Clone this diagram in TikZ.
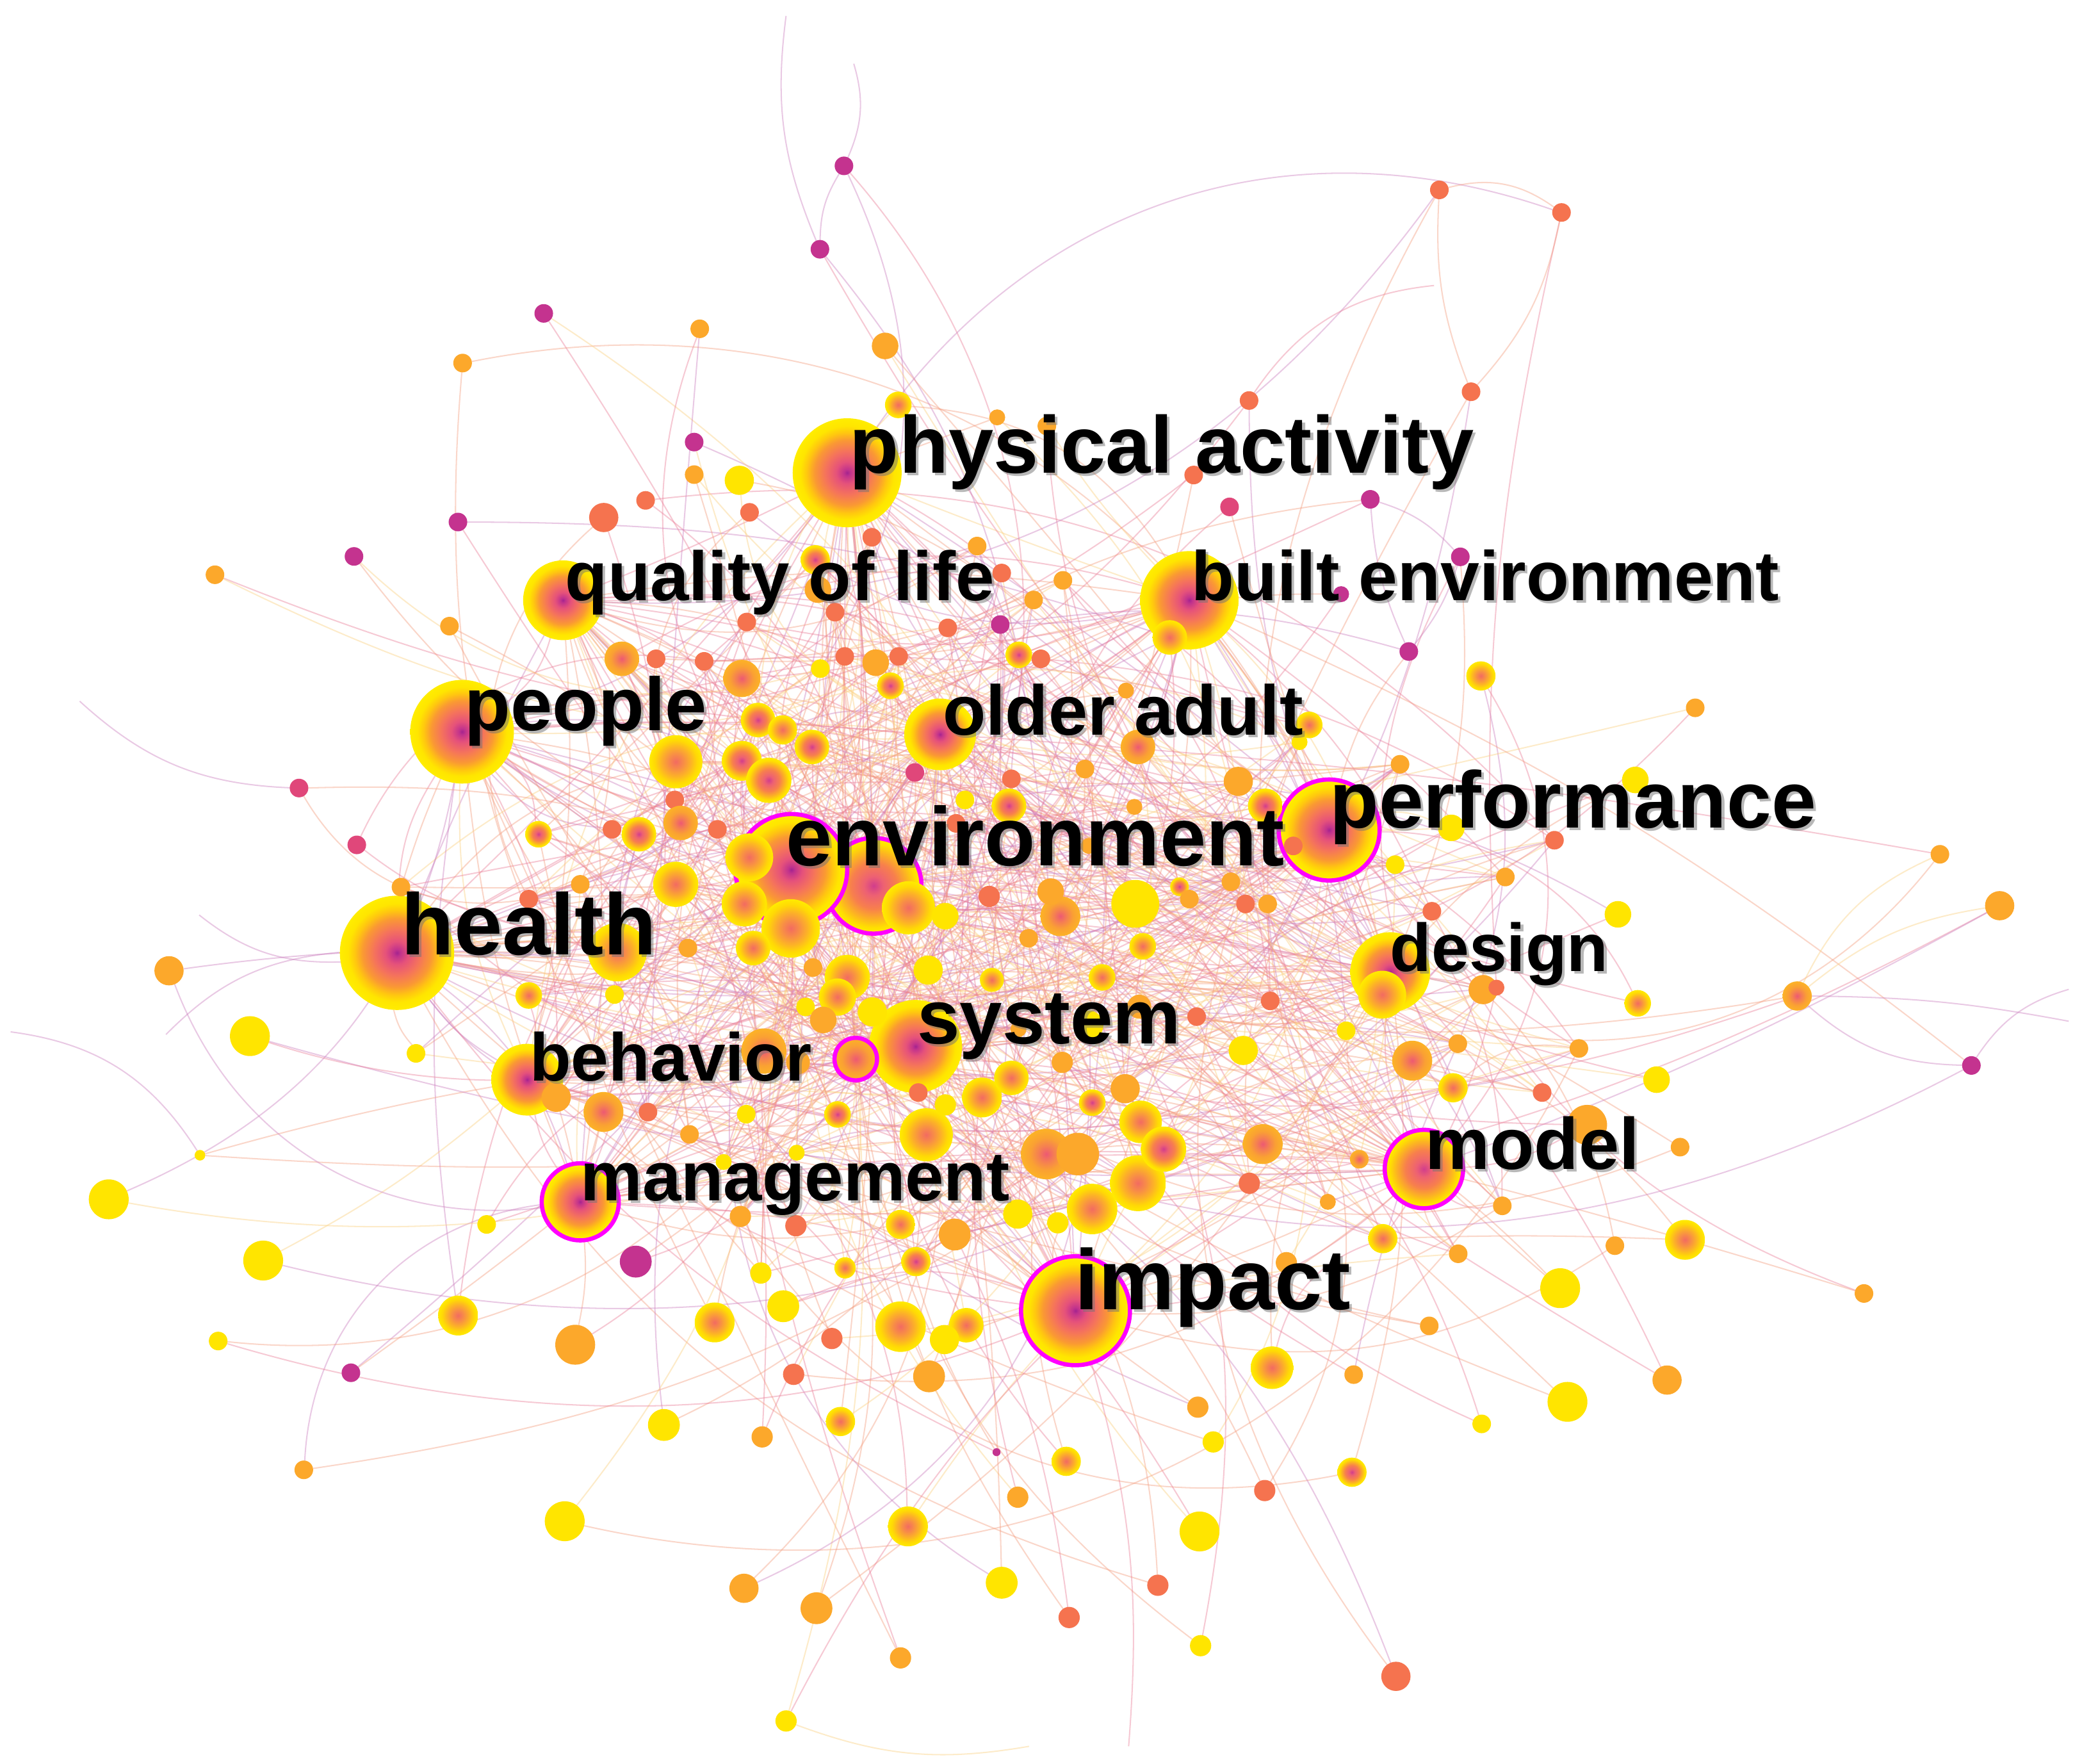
\documentclass[tikz,border=0pt]{standalone}
\usepackage{fontspec}
\setmainfont{Liberation Sans}
\usetikzlibrary{backgrounds}
\pgfdeclareradialshading{shB}{\pgfpoint{0bp}{0bp}}{rgb(0bp)=(0.64,0.14,0.56); rgb(1.5bp)=(0.76,0.2,0.55); rgb(5bp)=(0.9,0.32,0.48); rgb(10bp)=(0.96,0.45,0.36); rgb(15bp)=(0.98,0.6,0.2); rgb(18.5bp)=(1,0.78,0.06); rgb(21.5bp)=(1,0.9,0); rgb(25bp)=(1,0.93,0); rgb(50bp)=(1,0.93,0)}
\pgfdeclareradialshading{shS}{\pgfpoint{0bp}{0bp}}{rgb(0bp)=(0.82,0.24,0.55); rgb(5bp)=(0.93,0.38,0.45); rgb(12bp)=(0.97,0.5,0.3); rgb(18bp)=(0.99,0.72,0.12); rgb(22bp)=(1,0.88,0); rgb(25bp)=(1,0.92,0); rgb(50bp)=(1,0.92,0)}
\pgfdeclareradialshading{shO}{\pgfpoint{0bp}{0bp}}{rgb(0bp)=(0.93,0.35,0.45); rgb(8bp)=(0.96,0.5,0.32); rgb(16bp)=(0.98,0.63,0.2); rgb(25bp)=(0.99,0.7,0.15); rgb(50bp)=(0.99,0.7,0.15)}
\pgfdeclareradialshading{shY}{\pgfpoint{0bp}{0bp}}{rgb(0bp)=(0.95,0.42,0.38); rgb(7bp)=(0.97,0.55,0.28); rgb(14bp)=(0.99,0.7,0.15); rgb(20bp)=(1,0.85,0.02); rgb(25bp)=(1,0.92,0); rgb(50bp)=(1,0.92,0)}
\definecolor{cY}{rgb}{1,0.9,0}
\definecolor{cO}{rgb}{0.99,0.66,0.17}
\definecolor{cS}{rgb}{0.96,0.45,0.31}
\definecolor{cP}{rgb}{0.88,0.28,0.48}
\definecolor{cM}{rgb}{0.77,0.2,0.56}
\definecolor{cRing}{rgb}{1,0,1}
\definecolor{e1}{rgb}{0.92,0.5,0.6}
\definecolor{e2}{rgb}{0.96,0.62,0.5}
\definecolor{e3}{rgb}{0.99,0.82,0.5}
\definecolor{e4}{rgb}{0.8,0.5,0.75}
\newcommand\kwlab[5]{%
  \node[lblsh,font=\fontsize{#4}{#4}\selectfont\bfseries] (#1s) at (#2+2,#3+2) {#5};
  \node[lbl,font=\fontsize{#4}{#4}\selectfont\bfseries] (#1) at (#2,#3) {#5};}
\tikzset{
  dot/.style={circle,inner sep=0pt,outer sep=0pt},
  kB/.style={dot,shading=shB,shade},
  kS/.style={dot,shading=shS,shade},
  kO/.style={dot,shading=shO,shade},
  kY/.style={dot,shading=shY,shade},
  pY/.style={dot,fill=cY},
  pO/.style={dot,fill=cO},
  pS/.style={dot,fill=cS},
  pP/.style={dot,fill=cP},
  pM/.style={dot,fill=cM},
  ring/.style={draw=cRing,line width=0.9pt},
  ed/.style={line width=0.28pt,opacity=0.42},
  ec1/.style={ed,draw=e1},
  ec2/.style={ed,draw=e1},
  ec3/.style={ed,draw=e2},
  ec4/.style={ed,draw=e2},
  ec5/.style={ed,draw=e3},
  ec6/.style={ed,draw=e4},
  lbl/.style={anchor=base west,inner sep=0pt,outer sep=0pt,text=black},
  lblsh/.style={lbl,text=black!55,opacity=0.5}
}
\begin{document}
\begin{tikzpicture}[x=0.01cm,y=-0.01cm]
\useasboundingbox (0,0) rectangle (1568,1328);
% ---------- hubs ----------
\node[kB,minimum size=0.82cm] (h1) at (638,356) {};
\node[kB,minimum size=0.60cm] (h2) at (424,452) {};
\node[kB,minimum size=0.74cm] (h3) at (895.7,452) {};
\node[kB,minimum size=0.78cm] (h4) at (348,551) {};
\node[kB,minimum size=0.54cm] (h5) at (708,553) {};
\node[kS,ring,minimum size=0.72cm] (h7) at (658,667) {};
\node[kB,ring,minimum size=0.84cm] (h6) at (596,655) {};
\node[kB,ring,minimum size=0.76cm] (h8) at (1001,625) {};
\node[kB,minimum size=0.86cm] (h9) at (299,717.5) {};
\node[kB,minimum size=0.60cm] (h10) at (1047,732) {};
\node[kB,minimum size=0.70cm] (h11) at (689.5,788) {};
\node[kB,minimum size=0.54cm] (h12) at (397,813) {};
\node[kO,ring,minimum size=0.32cm] (h13) at (644.5,797.5) {};
\node[kB,ring,minimum size=0.58cm] (h14) at (437,905) {};
\node[kS,ring,minimum size=0.59cm] (h15) at (1072.4,880.3) {};
\node[kB,ring,minimum size=0.82cm] (h16) at (810,987) {};
% ---------- central nodes ----------
\foreach \xx/\yy/\rr/\ss [count=\k] in {
614/421.5/11/kS, 616/444/10/pO, 656.6/404.6/7/pS, 735.9/411.2/7/pO, 754.4/431.5/7/pS,
800.5/437/7/pO, 778.4/451.8/7/pO, 628.9/461/7/pS, 562.4/468.4/7/pS, 753.3/470.3/7/pM,
713.8/472.8/7/pS, 468.3/496.1/13/kO, 494.1/496.1/7/pS, 530.3/498/7/pS, 558.7/510.9/14/kO,
617.8/503.5/7/pY, 636.2/494.3/7/pS, 659.5/499/10/pO, 676.8/494.3/7/pS, 670.6/516.4/10/kS,
767.3/493.1/10/kS, 783.9/496.1/7/pS, 570.9/542.2/13/kS, 589.4/549.6/11/kY, 611.5/562.5/13/kS,
509/573.6/20/kY, 558.7/572.9/15/kS, 579/587.6/17/kS, 689/581.7/7/pP, 726.7/602.4/7/pY,
761.7/586.5/7/pS, 759.9/606.8/13/kS, 817.1/579.1/7/pO, 508.2/602.4/7/pS, 512.6/619.7/13/kO,
481.2/628.2/13/kS, 460.9/624.5/7/pS, 405.6/628.2/10/kS, 540.3/624.5/7/pS, 564.3/645.6/18/kY,
508.9/665.9/17/kY, 560.6/680.6/17/kY, 595.6/699.1/22/kY, 567.2/713.9/13/kY, 684.2/683.6/20/kY,
711.9/689.9/10/pY, 638.1/736/17/kY, 612.3/728.6/7/pO, 699/730.5/11/pY, 747/737.9/9/kY,
465/717/22/kY, 437/665.9/7/pO, 398.2/677/7/pS, 302/668/7/pO, 518.1/713.9/7/pO,
462.8/748.9/7/pY, 398.2/749.6/10/kY, 313.3/793.2/7/pY, 606.7/758.2/7/pY, 630.7/750.8/14/kY,
575.3/791.4/17/kO, 418.9/826.3/11/pO, 454.5/837.3/15/kO, 488/837.4/7/pS, 519.3/854.2/7/pO,
562/839/7/pY, 630.8/839.2/10/kS, 691.6/822.7/7/pS, 739.6/826.4/15/kY, 761.7/811.7/13/kY,
822.6/830.3/10/kS, 798.6/689.9/15/kO, 791.3/671.4/10/pO, 830/736/10/kY, 774.7/706.5/7/pO,
855/680.6/18/pY, 860.6/712.6/10/kY, 888.3/667.7/7/kS, 895.7/677/7/pO, 927/664/7/pO,
938/680.7/7/pS, 954.7/680.7/7/pO, 974/637/7/pS, 952.9/606.8/13/kS, 932.6/588.4/11/pO,
857/562.5/13/kO, 854.3/607.6/6/pO, 986/545.9/10/kY, 978.7/558.8/6/pY, 1054.4/575.5/7/pO,
1093/623.4/10/pY, 1050.7/651.1/7/pY, 1133.7/660.4/7/pO, 1170.7/632.7/7/pS, 1078.4/686.2/7/pS,
1117/745.2/11/pO, 1127/743.7/6/pS, 956.6/753.7/7/pS, 901.2/765.5/7/pS, 936.3/791/11/pY,
1013.8/776.2/7/pY, 1063.6/798.7/15/kO, 1097.9/785.9/7/pO, 1094.3/819.1/11/kY, 1189.1/789.5/7/pO,
1161.4/822.7/7/pS, 951/861.5/15/kO, 1023.7/872.9/7/kO, 1131.4/908/7/pO, 1041.4/932.7/11/kY,
1098.2/944.1/7/pO, 940.9/891/8/pS, 857/891/21/kY, 822.5/910.4/19/kY, 788/869/19/kO,
811.7/869/16/pO, 859/844.8/16/kY, 876.3/865.3/17/kS, 847.4/819.8/11/pO, 697.6/854.5/20/kY,
766.5/914.2/11/pY, 796.6/920.8/8/pY, 719/929.6/12/pO, 678.2/922/11/kY, 689.8/950/11/kS,
636.4/954.7/8/kY, 573/958.6/8/pY, 599.4/923/8/pS, 557.6/916/8/pO, 720/620/7/pS,
820/637/6/pO, 745/675/8/pS, 620/768/10/pO, 601/800/9/pO, 657/762/11/pY,
800/800/8/pO, 767/775/6/pO, 820/772/11/pY, 858/758/9/pO, 545/875/6/pY,
600/868/6/pY, 712/832/8/pY, 848/520/6/pO, 1000/905/6/pO, 881/480/13/kY,
1041/749/18/kY}
{\node[\ss,minimum size={0.02cm*\rr}] (c\k) at (\xx,\yy) {}; \xdef\NC{\k}}
% ---------- peripheral nodes ----------
\foreach \xx/\yy/\rr/\ss [count=\k] in {
478.8/950/12/pM, 366.5/922/7/pY, 727.7/997.9/13/kY, 711.3/1008.7/11/pY, 678.2/999/19/kY,
699.7/1036.4/12/pO, 626.5/1007.9/8/pS, 597.7/1034.9/8/pS, 589.9/983.6/12/pY, 538.2/995.8/15/kY,
433.2/1012.6/15/pO, 345/990.6/15/kY, 968.8/950.8/8/pO, 1269/933.6/15/kY, 1216.2/938/7/pO,
1175/970/15/pY, 1403.8/974/7/pO, 1076.4/998.4/7/pO, 1019.5/1035.1/7/pO, 958/1029.9/16/kY,
1255.5/1039.2/11/pO, 1180.5/1055.6/15/pY, 1115.9/1072.2/7/pY, 1018.2/1108.6/11/kS, 902.1/1059.6/8/pO,
913.7/1085.8/8/pY, 952.5/1122.4/8/pS, 903.4/1153.2/15/pY, 872/1193.7/8/pS, 904.2/1239.2/8/pY,
1051.3/1262.3/11/pS, 805.2/1218/8/pS, 803/1100.4/11/kY, 766.5/1127.4/8/pO, 750.5/1093.5/3/pM,
754.4/1191.8/12/pY, 683.8/1149.4/15/kY, 678.2/1248.4/8/pO, 614.9/1211/12/pO, 592/1295.9/8/pY,
560.3/1196/11/pO, 633/1070.4/11/kY, 574/1082/8/pO, 500/1073/12/pY, 425.3/1145.5/15/pY,
228.8/1106.8/7/pO, 264.3/1033.7/7/pM, 164.3/1009.8/7/pY, 198.2/949.2/15/pY, 81.9/903.1/15/pY,
150.6/869.9/4/pY, 188.2/780.2/15/pY, 127.3/731/11/pO, 268.7/636.2/7/pP, 225.2/593.4/7/pP,
338.5/471.5/7/pO, 161.9/432.8/7/pO, 266.6/419/7/pM, 344.9/393.1/7/pM, 454.7/389.7/11/pS,
486.2/376.8/7/pS, 564.5/385.8/7/pS, 522.8/357.4/7/pO, 556.8/361.7/11/pY, 522.8/332.9/7/pM,
348.4/273.4/7/pO, 409.5/236/7/pM, 527/247.6/7/pO, 617.5/187.7/7/pM, 635.6/124.9/7/pM,
666.6/260.5/10/pO, 676.5/304.9/10/kY, 751/314.3/6/pO, 788.4/320.8/7/pO, 940.7/301.6/7/pS,
1107.9/295/7/pS, 1084/143/7/pS, 1176/160/7/pS, 899/357.7/7/pS, 926/381.7/7/pP,
1032/376/7/pM, 1099.8/419.3/7/pM, 1010/447.4/6/pM, 1061/490.6/7/pM, 1115.3/509/11/kY,
1276.7/533/7/pO, 1231.6/587.3/10/pY, 1218.5/688.5/10/pY, 1233.4/755.5/10/kY, 1247.6/813/10/pY,
1265.3/863.8/7/pO, 1353.5/750/11/kO, 1461/643.3/7/pO, 1506/682/11/pO, 1484.7/802.3/7/pM,
1195.3/847/15/pO}
{\node[\ss,minimum size={0.02cm*\rr}] (p\k) at (\xx,\yy) {}; \xdef\NP{\k}}
% ---------- free ends of arcs ----------
\coordinate (f1) at (592,12);
\coordinate (f2) at (643,48);
\coordinate (f3) at (60,528);
\coordinate (f4) at (8,777);
\coordinate (f5) at (1558,769);
\coordinate (f6) at (1558,745);
\coordinate (f7) at (850,1315);
\coordinate (f8) at (775,1315);
\coordinate (f9) at (1080,215);
\coordinate (f10) at (150,689);
\coordinate (f11) at (125,779);
% ---------- connectors ----------
\begin{pgfonlayer}{background}
\fill[white] (0,0) rectangle (1568,1328);
\pgfmathsetseed{2024}
\foreach \ia in {1,...,15} {
  \pgfmathtruncatemacro{\ib}{\ia+1}
  \foreach \ie in {\ib,...,16} {
    \pgfmathrandominteger{\ic}{1}{6}
    \pgfmathrandominteger{\id}{-20}{20}
    \draw[ec\ic] (h\ia) to[bend left=\id] (h\ie);
  }
}
\foreach \ia in {1,...,16} {
  \foreach \it in {1,...,8} {
    \pgfmathrandominteger{\ij}{1}{\NC}
    \pgfmathrandominteger{\ic}{1}{6}
    \pgfmathrandominteger{\id}{-25}{25}
    \draw[ec\ic] (h\ia) to[bend left=\id] (c\ij);
  }
}
\foreach \ia in {1,...,\NC} {
  \pgfmathrandominteger{\ih}{1}{16}
  \pgfmathrandominteger{\ic}{1}{6}
  \pgfmathrandominteger{\id}{-25}{25}
  \draw[ec\ic] (c\ia) to[bend left=\id] (h\ih);
  \foreach \it in {1,2} {
    \pgfmathrandominteger{\ij}{1}{\NC}
    \pgfmathtruncatemacro{\ij}{ifthenelse(\ij==\ia,mod(\ij,\NC)+1,\ij)}
    \pgfmathrandominteger{\ic}{1}{6}
    \pgfmathrandominteger{\id}{-25}{25}
    \draw[ec\ic] (c\ia) to[bend left=\id] (c\ij);
  }
}
\foreach \ia in {1,...,\NP} {
  \pgfmathrandominteger{\ih}{1}{16}
  \pgfmathrandominteger{\ic}{1}{6}
  \pgfmathrandominteger{\id}{-40}{40}
  \draw[ec\ic] (p\ia) to[bend left=\id] (h\ih);
  \pgfmathrandominteger{\ij}{1}{\NC}
  \pgfmathrandominteger{\ic}{1}{6}
  \pgfmathrandominteger{\id}{-40}{40}
  \draw[ec\ic] (p\ia) to[bend left=\id] (c\ij);
}
\draw[ec3] (p77) to[bend left=25] (p78);
\draw[ec3] (p77) to[bend right=12] (p76);
\draw[ec3] (p78) to[bend left=15] (p76);
\draw[ec1] (p75) to[bend left=25] (f9);
\draw[ec6] (p69) to[bend left=15] (f1);
\draw[ec6] (p70) to[bend right=20] (f2);
\draw[ec6] (p70) to[bend right=15] (p69);
\draw[ec6] (p81) to[bend left=15] (p82);
\draw[ec6] (p81) to[bend right=10] (p84);
\draw[ec6] (p82) to[bend left=10] (p84);
\draw[ec5] (p92) to[bend left=20] (p93);
\draw[ec5] (p92) to[bend left=15] (p94);
\draw[ec6] (p92) to[bend right=20] (p95);
\draw[ec6] (p92) to[bend left=5] (f5);
\draw[ec6] (p95) to[bend left=20] (f6);
\draw[ec6] (p51) to[bend right=25] (f4);
\draw[ec6] (h9) to[bend left=20] (f10);
\draw[ec6] (h9) to[bend right=20] (f11);
\draw[ec1] (h16) to[bend left=10] (f7);
\draw[ec5] (p40) to[bend right=15] (f8);
\draw[ec6] (p55) to[bend left=20] (f3);
\end{pgfonlayer}
% ---------- labels ----------
\kwlab{Lpa}{640}{356}{17.3}{physical activity}
\kwlab{Lql}{425.7}{452}{14.9}{quality of life}
\kwlab{Lbe}{897.4}{452}{15}{built environment}
\kwlab{Lpe}{350}{550}{16.1}{people}
\kwlab{Loa}{710}{553.5}{15.1}{older adult}
\kwlab{Len}{591.8}{652}{17.8}{environment}
\kwlab{Lpf}{1001.5}{623.5}{17.2}{performance}
\kwlab{Lhe}{302}{719}{18.6}{health}
\kwlab{Lde}{1047}{731.6}{14.5}{design}
\kwlab{Lsy}{690.7}{786}{16.4}{system}
\kwlab{Lbh}{399}{814}{14.5}{behavior}
\kwlab{Lmg}{437.2}{904}{14.9}{management}
\kwlab{Lmo}{1073.3}{880.3}{15.6}{model}
\kwlab{Lim}{809.7}{986}{18.3}{impact}
\end{tikzpicture}
\end{document}
